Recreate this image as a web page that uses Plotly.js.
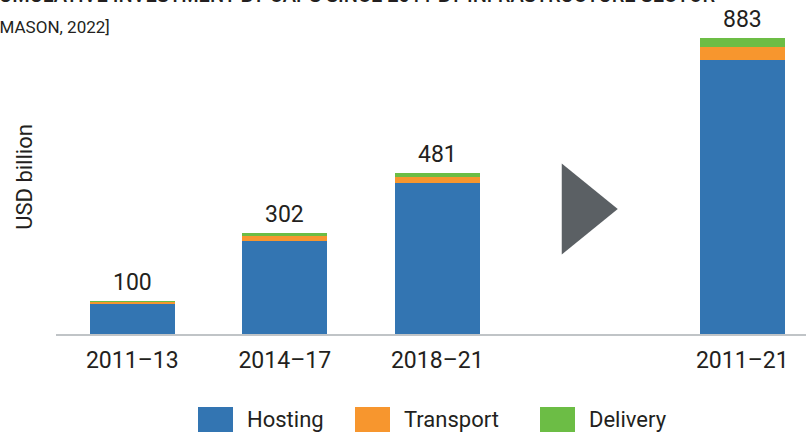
<!DOCTYPE html>
<html>
<head>
<meta charset="utf-8">
<script src="https://cdn.plot.ly/plotly-3.0.1.min.js"></script>
<style>
  html, body { margin: 0; padding: 0; background: #ffffff; }
  #chart { width: 806px; height: 432px; }
</style>
</head>
<body>
<div id="chart"></div>
<script>
// ---- Data ----
const categories = ["2011–13", "2014–17", "2018–21", " ", "2011–21"];
const hosting    = [89, 279, 450, null, 818];
const transport  = [6, 14, 19, null, 39];
const delivery   = [5, 9, 12, null, 26];
const seriesNames = ["Hosting", "Transport", "Delivery"];
const seriesColors = ["#3375b2", "#f7962e", "#6cbd45"];
const yTitle = "USD billion";
const titleText = "CUMULATIVE INVESTMENT BY CAPS SINCE 2011 BY INFRASTRUCTURE SECTOR";
const sourceText = "Source: [MASON, 2022]";

// ---- Layout geometry ----
const W = 806, H = 432;
const M = { l: 56, r: 0, t: 20, b: 98 };
const plotW = W - M.l - M.r, plotH = H - M.t - M.b;
const px2x = px => (px - M.l) / plotW;          // page pixel -> paper x
const px2y = py => (H - M.b - py) / plotH;       // page pixel -> paper y

const FONT = "Roboto, 'DejaVu Sans', sans-serif";
const TXT = "#231f20";

const series = [hosting, transport, delivery];
const traces = series.map((vals, i) => ({
  type: "bar",
  x: categories,
  y: vals,
  name: seriesNames[i],
  marker: { color: seriesColors[i], line: { width: 0 } },
  width: 0.557,
  hoverinfo: "x+y+name",
  showlegend: false
}));

// totals for value labels
const totals = categories.map((c, k) =>
  series.every(s => s[k] == null) ? null : series.reduce((a, s) => a + (s[k] || 0), 0));

const annotations = [];
totals.forEach((t, k) => {
  if (t == null) return;
  annotations.push({
    x: categories[k], y: t, xref: "x", yref: "y",
    text: String(t), showarrow: false, yanchor: "bottom", yshift: 3,
    font: { family: FONT, size: 23, color: TXT }
  });
});

// title (clipped at top of page, as in the reference) and source line
annotations.push({
  xref: "paper", yref: "paper", x: px2x(717), y: px2y(9),
  xanchor: "right", yanchor: "bottom", showarrow: false,
  text: titleText, font: { family: FONT, size: 20, color: TXT, weight: 500 }
});
annotations.push({
  xref: "paper", yref: "paper", x: px2x(112), y: px2y(27),
  xanchor: "right", yanchor: "middle", showarrow: false,
  text: sourceText, font: { family: FONT, size: 17, color: TXT }
});

// custom legend
const legendSw = [198, 355, 540];
const shapes = [];
seriesNames.forEach((n, i) => {
  shapes.push({
    type: "rect", xref: "paper", yref: "paper",
    x0: px2x(legendSw[i]), x1: px2x(legendSw[i] + 35),
    y0: px2y(407), y1: px2y(434),
    fillcolor: seriesColors[i], line: { width: 0 }
  });
  annotations.push({
    xref: "paper", yref: "paper", x: px2x(legendSw[i] + 47), y: px2y(419),
    xanchor: "left", yanchor: "middle", showarrow: false,
    text: n, font: { family: FONT, size: 22, color: TXT }
  });
});

// decorative arrow triangle in the gap category
shapes.push({
  type: "path", xref: "x", yref: "paper",
  xsizemode: "pixel", xanchor: 3,
  ysizemode: "pixel", yanchor: px2y(209),
  path: "M -28,-45.5 L 28,0 L -28,45.5 Z",
  fillcolor: "#5b6064", line: { width: 0 }
});

const layout = {
  width: W, height: H,
  margin: M,
  paper_bgcolor: "#ffffff", plot_bgcolor: "#ffffff",
  barmode: "stack",
  showlegend: false,
  font: { family: FONT, color: TXT },
  xaxis: {
    type: "category",
    range: [-0.5, -0.5 + plotW / 152.5],
    showgrid: false, zeroline: false,
    showline: true, linecolor: "#c0c4c7", linewidth: 2,
    ticks: "outside", ticklen: 4, tickcolor: "rgba(0,0,0,0)",
    tickfont: { family: FONT, size: 23, color: TXT },
    fixedrange: true
  },
  yaxis: {
    range: [0, plotH / 0.335],
    showgrid: false, zeroline: false, showline: false,
    showticklabels: false, ticks: "",
    title: { text: yTitle, font: { family: FONT, size: 22, color: TXT }, standoff: 16 },
    fixedrange: true
  },
  annotations: annotations,
  shapes: shapes
};

Plotly.newPlot("chart", traces, layout, { displayModeBar: false, staticPlot: true });
</script>
</body>
</html>
